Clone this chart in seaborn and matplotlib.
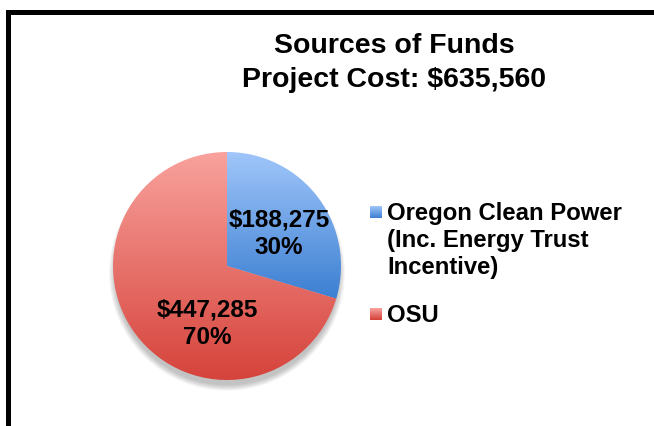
import numpy as np
import matplotlib
matplotlib.use("Agg")
import matplotlib.pyplot as plt
import seaborn as sns
from matplotlib.colors import LinearSegmentedColormap
from matplotlib.patches import Rectangle, Circle

sns.set_theme(style="white")
plt.rcParams['font.family'] = ['Liberation Sans', 'DejaVu Sans']
plt.rcParams['text.color'] = 'black'

# ---- data ----
categories = ["Oregon Clean Power\n(Inc. Energy Trust\nIncentive)", "OSU"]
amounts = [188275, 447285]
pct_labels = ["30%", "70%"]
title_lines = ["Sources of Funds", "Project Cost: $635,560"]

top_colors = ["#A0C6FA", "#F9A29D"]
bottom_colors = ["#3C7FD2", "#D5423A"]

W, H = 654, 426
DPI = 100
fig = plt.figure(figsize=(W / DPI, H / DPI), dpi=DPI)
fig.patch.set_facecolor("white")

# frame (left and top borders visible)
fig.patches.append(Rectangle((7.5 / W, -0.2), 1.2, (H - 11.5) / H + 0.2,
                             transform=fig.transFigure, fill=False,
                             edgecolor="black", linewidth=3.6, zorder=0))

# pie axes positioned in pixels
cx, cy, r = 227, 266, 114
half = r * 1.3
ax = fig.add_axes([(cx - half) / W, (H - cy - half) / H, 2 * half / W, 2 * half / H])
ax.set_xlim(-1.3, 1.3)
ax.set_ylim(-1.3, 1.3)
ax.set_aspect("equal")
ax.axis("off")

# soft shadow (mostly below the pie)
for k in range(8):
    ax.add_patch(Circle((0.0, -0.06), 0.985 + k * 0.007, color="#303030",
                        alpha=0.04, lw=0, zorder=0))

wedges, _ = ax.pie(amounts, startangle=90, counterclock=False, radius=1.0,
                   colors=["none", "none"], wedgeprops=dict(linewidth=0))

for i, w in enumerate(wedges):
    w.set_zorder(2)
    verts = w.get_path().vertices
    ymin, ymax = verts[:, 1].min(), verts[:, 1].max()
    cmap = LinearSegmentedColormap.from_list(f"g{i}", [bottom_colors[i], top_colors[i]])
    grad = np.linspace(0, 1, 256).reshape(-1, 1)
    im = ax.imshow(grad, cmap=cmap, origin="lower", aspect="auto",
                   extent=[-1.0, 1.0, ymin, ymax], zorder=1, interpolation="bilinear")
    im.set_clip_path(w)

ax.set_xlim(-1.3, 1.3)
ax.set_ylim(-1.3, 1.3)

# slice labels (pixel baselines converted to data units)
label_x = [279, 207]
label_base = [(227, 254), (317, 344)]
for lx, (b1, b2), amt, pct in zip(label_x, label_base, amounts, pct_labels):
    xd = (lx - cx) / r
    for txt, b in ((f"${amt:,}", b1), (pct, b2)):
        ax.text(xd, (cy - b) / r, txt, ha="center", va="baseline",
                fontsize=17.5, fontweight="bold", color="black", zorder=5)

# title
for txt, b in zip(title_lines, [53, 87]):
    fig.text(394 / W, 1 - b / H, txt, ha="center", va="baseline",
             fontsize=20.5, fontweight="bold", color="black")

# legend (manual, square markers)
leg_base = [[220, 247, 274], [322]]
for cat, bases, tc, bc in zip(categories, leg_base, top_colors, bottom_colors):
    sq_c = bases[0] - 8
    sq = fig.add_axes([370 / W, (H - sq_c - 6) / H, 12 / W, 12 / H])
    cm = LinearSegmentedColormap.from_list("s", [bc, tc])
    sq.imshow(np.linspace(0, 1, 32).reshape(-1, 1), cmap=cm, origin="lower",
              aspect="auto", extent=[0, 1, 0, 1])
    sq.axis("off")
    for line, b in zip(cat.split("\n"), bases):
        fig.text(387 / W, 1 - b / H, line, ha="left", va="baseline",
                 fontsize=17.2, fontweight="bold", color="black")

fig.savefig("out.png", dpi=DPI, facecolor="white")
